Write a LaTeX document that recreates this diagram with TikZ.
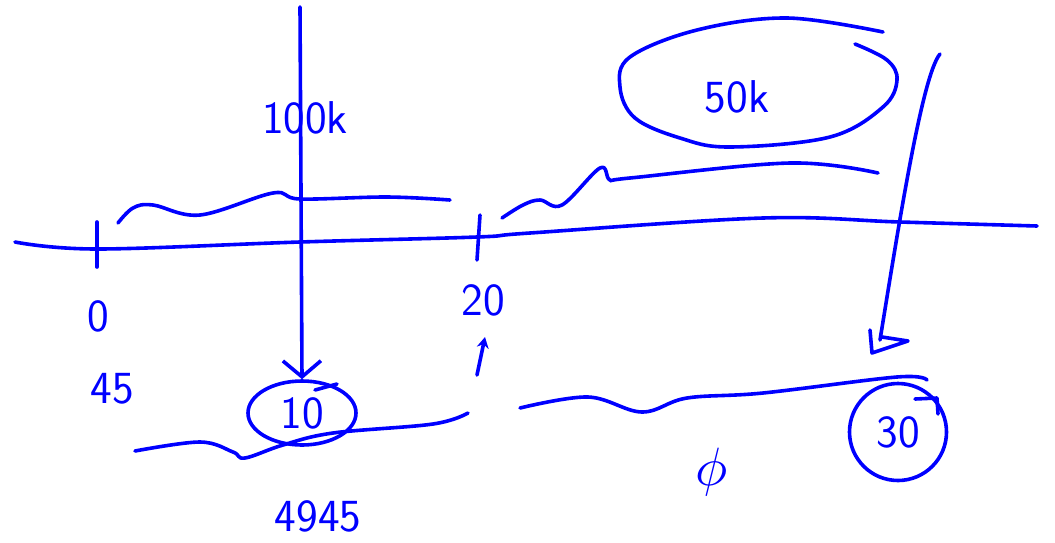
\documentclass[tikz,border=0pt]{standalone}
\usetikzlibrary{arrows.meta,shapes.geometric}
\definecolor{inkblue}{RGB}{0,0,255}
\begin{document}
\begin{tikzpicture}[x=1pt,y=-1pt,
  ink/.style={draw=inkblue, line width=3.6pt, line cap=round, line join=round},
  lbl/.style={text=inkblue, font=\sffamily\fontsize{46}{46}\selectfont, inner sep=0pt},
  wave/.style={ink, smooth, tension=0.6}]
\useasboundingbox (0,0) rectangle (1055,542);
% main axis
\draw[wave] plot coordinates {(15,242) (97,249) (300,242) (477,237) (530,233) (763,218) (900,222) (1037,226)};
% ticks
\draw[ink] (97,222) -- (97,267);
\draw[ink] (480,215) -- (477,260);
% labels
\node[lbl] (t0) at (98,316) {0};
\node[lbl] (t45) at (112,389) {45};
\node[lbl] (t20) at (483,300) {20};
\node[lbl] (t100k) at (305,118) {100k};
\node[lbl] (t50k) at (737,97) {50k};
\node[lbl] (t4945) at (318,516) {4945};
\node[text=inkblue, inner sep=0pt, font=\normalsize] (tphi) at (712,472) {\scalebox{5.4}{$\phi$}};
\node[lbl, ink, ellipse, minimum width=108pt, minimum height=64pt, inner sep=0pt] (e10) at (302,413) {10};
\node[lbl, ink, circle, minimum size=97pt, inner sep=0pt] (c30) at (898,432) {30};
% tails of the loops
\draw[ink] (315,390) -- (337,384);
\draw[ink] (915,399) -- (937,398) -- (938,414);
% 50k loop
\draw[wave] plot coordinates {(883,32) (787,18) (697,30) (630,57) (620,87) (635,118) (680,138) (730,147) (830,137) (883,107) (897,80) (887,60) (855,44)};
% wavy lines
\draw[wave] plot coordinates {(118,223) (133,208) (153,205) (200,215) (273,193) (300,199) (387,197) (450,200)};
\draw[wave] plot coordinates {(502,218) (523,205) (540,200) (562,205) (600,168) (610,180) (630,178) (790,163) (878,173)};
\draw[wave] plot coordinates {(135,451) (200,442) (233,452) (245,458) (283,445) (333,433) (433,424) (468,413)};
\draw[wave] plot coordinates {(520,408) (588,397) (642,412) (687,398) (763,393) (897,377) (927,380)};
% arrow 100k -> 10
\coordinate (v1) at (300,7);
\draw[ink, -{Straight Barb[length=16pt,width=38pt,line width=3.6pt]}] (v1) -- (e10.north);
% right arrow
\coordinate (v2) at (940,54);
\coordinate (v2e) at (880,340);
\draw[ink] (v2) .. controls (922,75) and (898,230) .. (v2e);
\draw[ink] (870,330) -- (872,353) -- (908,341) -- (882,337);
% small up arrow
\coordinate (ua) at (477,375);
\coordinate (uat) at (485,337);
\draw[ink, -{Stealth[length=11pt,width=12pt]}] (ua) -- (uat);
\end{tikzpicture}
\end{document}
